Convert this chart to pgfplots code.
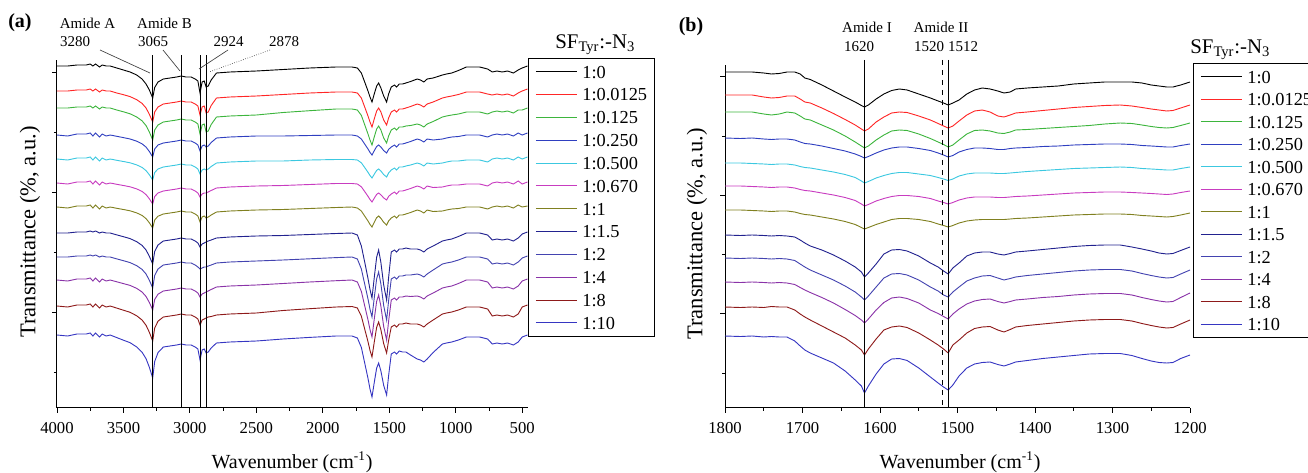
\documentclass[border=0pt]{standalone}
\usepackage{fontspec}
\setmainfont{Liberation Serif}
\usepackage{pgfplots}
\usepackage{pgfplotstable}
\pgfplotsset{compat=1.18}

\definecolor{k1}{HTML}{000000}
\definecolor{k2}{HTML}{FF2626}
\definecolor{k3}{HTML}{3DB53D}
\definecolor{k4}{HTML}{2F3FC0}
\definecolor{k5}{HTML}{3CC8E0}
\definecolor{k6}{HTML}{C83CC0}
\definecolor{k7}{HTML}{808020}
\definecolor{k8}{HTML}{22228F}
\definecolor{k9}{HTML}{4343B0}
\definecolor{k10}{HTML}{8A33A8}
\definecolor{k11}{HTML}{8E1A1A}
\definecolor{k12}{HTML}{3636C2}

\pgfplotstableread{
w c1 c2 c3 c4 c5 c6 c7 c8 c9 c10 c11 c12
-4000 -66 -91 -108 -135 -159 -183 -207 -233 -257 -280 -306 -335
-3920 -66 -91 -108 -136 -160 -184 -208 -233 -257 -281 -307 -336
-3850 -65 -90 -107 -134 -158 -182 -206 -232 -256 -279 -305 -334
-3780 -65 -90 -107 -134 -158 -182 -206 -232 -256 -279 -305 -334
-3750 -64 -89 -106 -133 -157 -181 -205 -231 -255 -278 -304 -333
-3730 -66 -91 -108 -136 -160 -184 -208 -232 -256 -281 -307 -336
-3710 -64 -89 -106 -133 -157 -181 -205 -231 -255 -278 -304 -333
-3680 -67 -92 -109 -137 -161 -185 -209 -233 -257 -282 -308 -337
-3660 -65 -90 -107 -134 -158 -182 -206 -232 -256 -279 -305 -334
-3630 -66 -91 -108 -136 -160 -184 -208 -233 -257 -281 -307 -336
-3600 -66 -91 -108 -135 -159 -183 -207 -233 -257 -280 -306 -335
-3550 -68 -93 -110 -136.3 -160.3 -184.3 -208.3 -234.9 -258.9 -281.8 -308.1 -337.6
-3500 -70 -94.7 -111.8 -137.6 -161.5 -185.5 -209.5 -236.7 -260.7 -283.6 -310.2 -340.2
-3450 -72 -96.6 -113.8 -139 -162.8 -186.8 -210.8 -238.6 -262.6 -285.4 -312.3 -342.7
-3400 -75 -99.7 -117 -141.2 -164.9 -188.9 -212.9 -241.7 -265.7 -288.4 -315.8 -347
-3360 -79 -103.4 -120.8 -143.8 -167.4 -191.4 -215.4 -245.4 -269.4 -292 -320 -352.2
-3330 -84 -108 -125.6 -147.1 -170.6 -194.6 -218.6 -250 -274 -296.5 -325.3 -358.7
-3305 -90 -114.3 -132 -151.5 -174.8 -198.8 -222.8 -256.3 -280.3 -302.5 -332.3 -367.3
-3280 -98 -122 -140 -157 -180 -204 -228 -264 -288 -310 -341 -378
-3265 -87.5 -112 -130 -149 -172.5 -196.5 -220 -251.5 -275.5 -299.5 -328 -361.5
-3240 -82 -107 -125 -145 -169 -193 -216.2 -245 -269 -294.2 -321.2 -352.6
-3200 -79 -104 -122 -143 -167 -191 -214 -241 -265 -291 -317 -347
-3150 -78 -103 -121 -142 -166 -190 -213 -240 -264 -290 -316 -346
-3100 -77 -102 -120 -141 -165 -189 -212 -239 -263 -289 -315 -345
-3065 -76 -101 -119 -140 -164 -188 -211 -238 -262 -288 -314 -344
-3030 -77 -102 -120 -141 -165 -189 -212 -239 -263 -289 -315 -345
-2990 -77 -102 -120 -141 -165 -189 -212 -239 -263 -289 -315 -345
-2960 -79 -104 -122 -143 -167 -191 -214 -241 -265 -291 -317 -347
-2940 -81 -106 -124 -145 -169 -193 -216 -243 -267 -293 -319 -349
-2924 -93 -115 -134 -151 -174 -197 -222 -247 -269 -297 -325 -360
-2908 -82 -107 -125 -146 -170 -194 -217 -244 -268 -294 -320 -350
-2892 -81 -106 -124 -145 -169 -193 -216 -243 -267 -293 -319 -349
-2878 -87 -113 -132 -147 -170 -193 -218 -242 -267 -292 -318 -353
-2862 -86 -112 -131 -146 -169 -192 -217 -241 -266 -291 -317 -352
-2840 -80 -105.5 -124.5 -142.5 -166.5 -190.5 -215 -240 -265 -289.5 -316.5 -348
-2800 -73 -98 -117 -138 -163 -188 -212 -238 -263 -287 -315 -343
-2700 -72 -97 -116 -137 -162 -187 -211 -237 -262 -286 -314 -342
-2500 -71 -96 -115 -136 -161 -186 -210 -236 -261 -285 -313 -341
-2300 -69.5 -94.5 -112.5 -136 -161 -185.5 -209.5 -235.5 -260 -283.5 -310.5 -339
-2100 -68 -93 -110.7 -135.5 -160 -184.5 -208.5 -234.5 -258.8 -282 -308.7 -337.4
-1900 -67 -92 -109 -135 -159.5 -183.5 -207.5 -233.5 -257.6 -280.7 -307 -336
-1780 -67 -92 -109 -135 -159.5 -183.5 -207 -233 -257 -280 -306.5 -336
-1740 -68 -93 -110 -136 -160 -184 -208 -235 -259 -282 -308 -338
-1710 -73 -98 -115.4 -139 -162.8 -186.8 -211 -246 -269 -291.4 -316.2 -347.4
-1685 -82 -107 -124.7 -144 -167.5 -191.5 -216 -262 -284 -305.7 -329 -362.9
-1660 -91 -116 -134 -149 -172.3 -196.3 -221 -278.5 -299 -319.9 -341.7 -378.4
-1645 -97 -122 -140 -152.4 -175.5 -199.5 -224.4 -289.5 -309.2 -329.6 -350.4 -389
-1630 -102 -127 -145 -155 -178 -202 -227 -298 -317 -337 -357 -397
-1612 -93.5 -118.5 -136.5 -150.5 -174 -198 -222 -276.4 -296.8 -318.1 -341.3 -381.7
-1595 -86 -111 -129 -146.5 -170.4 -194.4 -217.7 -257.2 -278.8 -301.3 -327.3 -368.1
-1580 -83 -108 -126 -145 -169 -193 -216 -250 -272 -295 -322 -363
-1563 -88 -112 -130 -147 -171 -194.8 -218.3 -262.5 -284 -306.3 -329.8 -371
-1542 -96 -120 -138 -150.6 -174.6 -197.9 -222.3 -285 -305.6 -326.5 -343.7 -385.4
-1520 -102 -125 -143 -153 -177 -200 -225 -300 -320 -340 -353 -395
-1505 -94 -118 -136 -149.4 -173 -196.4 -221 -277.5 -300.7 -321.1 -340.4 -375.7
-1485 -87 -112 -130 -147 -170 -194 -218 -252 -279 -300 -327 -354
-1460 -85 -110 -128 -145 -168 -192 -216 -250 -277 -298 -325 -352
-1445 -87 -112 -130 -147 -170 -194 -218 -252 -279 -300 -327 -354
-1425 -84 -109 -127 -144 -167 -191 -215 -249 -276 -297 -324 -351
-1400 -84 -109 -127 -144 -167 -191 -215 -249 -276 -297 -324 -352
-1375 -83 -108 -126 -143 -166 -190 -214 -248 -275 -296 -323 -352
-1340 -81.5 -106.5 -125.5 -141.5 -165 -188.5 -212.5 -249 -275 -296.5 -324 -355
-1290 -79 -104 -124 -139 -163 -186 -210 -249 -274 -296 -324 -359
-1265 -80 -105 -125 -140 -164 -187 -211 -250 -275 -297 -325 -360
-1240 -82 -107 -127 -142 -166 -189 -213 -252 -277 -299 -327 -362
-1215 -79 -104 -124 -139 -163 -186 -210 -249 -274 -296 -324 -359
-1170 -78 -102 -121.5 -140 -164 -187.5 -211.5 -246 -270 -293 -320 -352.5
-1100 -75 -98 -117 -139 -163 -187 -211 -241 -264 -288 -314 -344
-1070 -74 -97 -116 -138 -162 -186 -210 -240 -263 -287 -313 -343
-1030 -73 -96 -115 -137 -161 -185 -209 -239 -262 -286 -312 -342
-980 -70.5 -94.5 -114 -136.5 -161 -185 -208.5 -236.5 -260 -283.5 -310 -340
-920 -67 -92 -112 -135 -160 -184 -207 -233 -257 -280 -307 -337
-820 -67 -92 -112 -135 -160 -184 -207 -233 -257 -280 -307 -337
-760 -69 -94 -114 -137 -162 -186 -209 -235 -259 -282 -309 -339
-725 -72 -95 -112 -135 -159 -183 -207 -240 -264 -288 -316 -344
-690 -71 -94 -111 -134 -158 -182 -206 -239 -263 -287 -315 -343
-650 -72 -95 -112 -135 -159 -183 -207 -240 -264 -288 -316 -344
-610 -71 -94 -111 -134 -158 -182 -206 -239 -263 -287 -315 -343
-566 -73 -96 -113 -136 -160 -184 -208 -241 -265 -289 -317 -345
-530 -70 -93 -110 -133 -157 -181 -205 -238 -262 -286 -314 -342
-500 -68 -91 -110 -135 -159 -184 -207 -234 -258 -281 -307 -337
-460 -66 -89 -108 -133 -157 -182 -206 -232 -256 -279 -305 -335
}\tabA

\pgfplotstableread{
w c1 c2 c3 c4 c5 c6 c7 c8 c9 c10 c11 c12
-1800 -72 -95 -112 -138 -163 -186 -210 -235 -258 -282 -307 -336
-1780 -72 -95 -112 -138.5 -163 -186 -210 -235.5 -258.5 -282.5 -307.5 -336.5
-1765 -72 -95 -112 -138 -163.5 -186.5 -210.5 -235 -258 -282 -307 -336
-1750 -73 -97 -114 -139 -164 -187 -211 -235.5 -258.5 -282.5 -307.5 -337
-1740 -74 -98 -115 -139.5 -164.5 -187.5 -211.5 -236 -259 -283 -306.5 -336.5
-1730 -73.5 -97.5 -114 -139 -164 -187 -211 -235.5 -258.5 -282.5 -307 -337
-1720 -72 -96 -112 -139 -164 -187 -211 -236 -259 -283 -307 -337
-1710 -72 -96 -113 -140 -165 -188 -212 -237 -260.5 -284.5 -310 -341
-1703 -74 -99 -116 -142 -166.5 -189.5 -213.5 -240 -264 -287.5 -314 -346
-1697 -78 -102 -119 -143.5 -167.5 -190.5 -214.5 -243 -267 -290 -317 -350
-1690 -79.5 -103 -120 -144 -168 -191 -215 -246 -270 -292.5 -320 -353
-1675 -85 -108 -125 -146 -170 -193 -217 -250 -275 -297.5 -326 -358
-1660 -91 -113.5 -130 -148.5 -172 -195 -219 -255 -280 -303 -332 -363
-1645 -97 -119.5 -136 -151 -174.5 -197.5 -221.5 -261 -286 -309.5 -338 -371
-1632 -102 -125 -142 -154 -177.5 -200.5 -224.5 -267 -292 -315.5 -345 -380
-1624 -105.5 -129 -146 -156.5 -181 -204 -227.5 -272 -297 -320 -350 -386
-1620 -107 -131 -148 -158 -183 -206 -229 -277 -300 -323 -355 -393
-1615 -105 -129 -146 -156.5 -181.5 -204.5 -227.5 -273 -296 -319 -349 -386
-1605 -99 -122 -140 -153 -178 -201 -224.5 -264 -287 -310 -339 -374
-1595 -94 -117 -135 -150 -175.5 -198.5 -222 -254 -278 -302.5 -330 -364
-1585 -90.5 -113 -131 -148 -173.5 -196.5 -219.5 -250 -274 -298 -327 -359
-1575 -89 -112 -130 -147 -172.5 -195.5 -218.5 -249.5 -273.5 -297 -326 -358.5
-1565 -90 -112.5 -130.5 -147 -172.5 -195.5 -218.5 -251 -275 -298.5 -327.5 -360.5
-1550 -94 -116 -134 -148.5 -174 -196.5 -219.5 -256 -280 -303 -333 -368
-1535 -98 -120 -138.5 -150.5 -175.5 -198.5 -221.5 -263 -287 -310 -340 -377
-1525 -101 -123.5 -142 -153 -177.5 -201 -224 -267 -291 -313.5 -345 -383
-1518 -103 -126 -144.5 -155 -179 -202.5 -225.5 -271 -295 -316.5 -349 -387
-1512 -105 -128 -147 -157 -180.5 -204 -227 -274 -297 -319 -353 -390
-1506 -103 -126 -145 -155.5 -179 -202.5 -225.5 -268 -292 -314 -345 -385
-1498 -100 -121 -140 -152 -176 -200 -223 -263 -287 -309 -340 -376
-1488 -94 -115 -134 -149.5 -174 -198 -221 -256 -281 -304 -333 -368
-1478 -90 -111 -130.5 -148 -173 -197 -220 -253 -278 -301 -328.5 -364
-1468 -88 -110 -130 -148 -173 -197 -219.5 -252 -276 -299.5 -327 -362.5
-1458 -89 -112 -131 -148.5 -173 -197 -219.5 -252 -275.5 -299 -326.5 -362
-1448 -91 -116 -133 -149.5 -173.5 -197.5 -219.5 -254 -278 -301.5 -330 -364.5
-1440 -93 -117 -133.5 -149.5 -173.5 -197.5 -219.5 -255 -280 -303 -332 -366
-1432 -92 -115 -132 -148.5 -173 -197 -219 -253.5 -278.5 -301.5 -329.5 -364
-1425 -89 -113 -130 -148 -172.5 -196.5 -218.5 -252 -277 -300 -327 -362
-1410 -88 -112 -129.5 -147.5 -171.5 -196 -218 -251 -275.5 -299 -325.5 -360.5
-1390 -87 -110.5 -128.5 -146.5 -170.5 -195 -217 -249.5 -274 -297.5 -324 -358.5
-1370 -86 -109 -127.5 -146 -169.5 -194 -216 -248 -272.5 -296.5 -322.5 -357
-1350 -84 -107.5 -126.5 -145 -168.5 -193 -215 -246.5 -271 -295 -321 -355.5
-1330 -83 -106.5 -125.5 -144.5 -168 -192.5 -214.5 -245.5 -270 -294 -320 -354
-1310 -82 -105.5 -124 -144 -167.5 -192 -214 -245 -269.5 -293.5 -319.5 -353.5
-1290 -82 -105 -123 -144 -167 -192 -214 -245 -269.5 -293.5 -319.5 -353.5
-1275 -82 -106 -123.5 -144.5 -167.5 -192.5 -214.5 -247 -271 -295 -321 -355.5
-1262 -83 -107.5 -125 -145.5 -168.5 -193 -215.5 -249 -273.5 -297.5 -323.5 -358.5
-1250 -85 -109 -126.5 -146 -169 -193.5 -216 -251 -275.5 -299.5 -325.5 -361
-1240 -86 -110 -127.5 -146.5 -169.5 -194 -216.5 -253 -277 -301 -327 -362.5
-1230 -87 -111 -128 -147 -170 -194.5 -217 -254 -278 -302 -328 -363
-1222 -87 -110.5 -127.5 -147 -170 -194 -216.5 -253.5 -277.5 -301.5 -327.5 -362.5
-1212 -85 -108 -125.5 -145.5 -168.5 -192.5 -215 -250.5 -274 -297.5 -324 -358.5
-1200 -82 -105 -123 -144 -167 -191 -213 -247 -270 -293 -320 -355
}\tabB

\pgfplotsset{
  ftir/.style={
    scale only axis, clip=false,
    axis x line*=bottom, axis y line*=left,
    x axis line style={-}, y axis line style={-},
    axis line style={line width=0.6pt},
    tick align=outside,
    major tick length=3pt, minor tick length=1.8pt,
    every tick/.style={black, line width=0.5pt},
    yticklabels={},
    tick label style={font=\fontsize{10}{12}\selectfont},
    xticklabel style={yshift=-2.6pt},
    legend cell align=left,
    legend image code/.code={\draw[##1,line width=0.6pt] (0pt,0pt) -- (24.6pt,0pt);},
    legend style={draw=black, line width=0.5pt, fill=white,
      font=\fontsize{11}{13}\selectfont, inner xsep=4.2pt, inner ysep=4.2pt,
      column sep=3pt, nodes={inner sep=0pt, text height=7.6pt, text depth=0pt},
      anchor=north west},
    every axis plot/.append style={line width=0.55pt},
  }
}

\begin{document}
\begin{tikzpicture}
\useasboundingbox (0,0) rectangle (784.8pt,-283.8pt);

% ---------- panel (a)
\begin{axis}[ftir,
  at={(34.2pt,-244.5pt)}, anchor=south west,
  width=282.3pt, height=208.5pt,
  xmin=-4000, xmax=-460, ymin=-407.5, ymax=-60,
  xtick={-4000,-3500,...,-500},
  xticklabels={4000,3500,3000,2500,2000,1500,1000,500},
  minor xtick={-3750,-3250,...,-750},
  ytick={-312,-192,-72}, minor ytick={-372,-252,-132},
  legend style={at={(1.0011,1.0058)}, row sep=6.1pt},
]
\addplot[k1] table[x=w,y=c1]{\tabA};
\addplot[k2] table[x=w,y=c2]{\tabA};
\addplot[k3] table[x=w,y=c3]{\tabA};
\addplot[k4] table[x=w,y=c4]{\tabA};
\addplot[k5] table[x=w,y=c5]{\tabA};
\addplot[k6] table[x=w,y=c6]{\tabA};
\addplot[k7] table[x=w,y=c7]{\tabA};
\addplot[k8] table[x=w,y=c8]{\tabA};
\addplot[k9] table[x=w,y=c9]{\tabA};
\addplot[k10] table[x=w,y=c10]{\tabA};
\addplot[k11] table[x=w,y=c11]{\tabA};
\addplot[k12] table[x=w,y=c12]{\tabA};
\legend{1:0,1:0.0125,1:0.125,1:0.250,1:0.500,1:0.670,1:1,1:1.5,1:2,1:4,1:8,1:10}
\draw[line width=0.6pt] (axis cs:-3280,-55) -- (axis cs:-3280,-407.5);
\draw[line width=0.6pt] (axis cs:-3065,-55) -- (axis cs:-3065,-407.5);
\draw[line width=0.6pt] (axis cs:-2924,-55) -- (axis cs:-2924,-407.5);
\draw[line width=0.6pt] (axis cs:-2875,-55) -- (axis cs:-2875,-407.5);
\end{axis}

% ---------- panel (b)
\begin{axis}[ftir,
  at={(435pt,-244.5pt)}, anchor=south west,
  width=279pt, height=205.5pt,
  xmin=-1800, xmax=-1200, ymin=-407.5, ymax=-65,
  xtick={-1800,-1700,...,-1200},
  xticklabels={1800,1700,1600,1500,1400,1300,1200},
  minor xtick={-1750,-1650,...,-1250},
  ytick={-313,-195,-76}, minor ytick={-373,-254,-136},
  legend style={at={(1.00645,1.0058)}, row sep=5.9pt},
]
\addplot[k1] table[x=w,y=c1]{\tabB};
\addplot[k2] table[x=w,y=c2]{\tabB};
\addplot[k3] table[x=w,y=c3]{\tabB};
\addplot[k4] table[x=w,y=c4]{\tabB};
\addplot[k5] table[x=w,y=c5]{\tabB};
\addplot[k6] table[x=w,y=c6]{\tabB};
\addplot[k7] table[x=w,y=c7]{\tabB};
\addplot[k8] table[x=w,y=c8]{\tabB};
\addplot[k9] table[x=w,y=c9]{\tabB};
\addplot[k10] table[x=w,y=c10]{\tabB};
\addplot[k11] table[x=w,y=c11]{\tabB};
\addplot[k12] table[x=w,y=c12]{\tabB};
\legend{1:0,1:0.0125,1:0.125,1:0.250,1:0.500,1:0.670,1:1,1:1.5,1:2,1:4,1:8,1:10}
\draw[line width=0.6pt] (axis cs:-1620,-60) -- (axis cs:-1620,-407.5);
\draw[line width=0.6pt, dashed] (axis cs:-1520,-60) -- (axis cs:-1520,-407.5);
\draw[line width=0.6pt] (axis cs:-1512,-60) -- (axis cs:-1512,-407.5);
\end{axis}

% ---------- annotations (pixel coordinates)
\begin{scope}[x=0.6pt,y=-0.6pt]
\node[font=\bfseries\fontsize{12}{14}\selectfont] at (20,23) {(a)};
\node[font=\bfseries\fontsize{12}{14}\selectfont] at (691,27) {(b)};
\begin{scope}[every node/.style={font=\fontsize{9}{11}\selectfont, inner sep=0pt}]
\node at (87.5,23.3) {Amide A};
\node at (75,41.7) {3280};
\node at (164.5,23.3) {Amide B};
\node at (153,41.7) {3065};
\node at (228.5,41.7) {2924};
\node at (284,41.7) {2878};
\node at (867,27) {Amide I};
\node at (859,47) {1620};
\node at (941,27) {Amide II};
\node at (929,47) {1520};
\node at (963,47) {1512};
\end{scope}
\draw[black!75, line width=0.4pt] (100,50) -- (150,73);
\draw[black!75, line width=0.4pt] (163,50) -- (180,71);
\draw[black!75, line width=0.4pt] (228,50) -- (199,69);
\draw[black!75, line width=0.4pt, densely dotted] (270,50) -- (209,72);
\node[anchor=base west, inner sep=0pt, font=\fontsize{12.5}{14}\selectfont] at (555,48) {SF\textsubscript{Tyr}:-N\textsubscript{3}};
\node[anchor=base west, inner sep=0pt, font=\fontsize{12.5}{14}\selectfont] at (1190,53) {SF\textsubscript{Tyr}:-N\textsubscript{3}};
\node[rotate=90, font=\fontsize{13.5}{15}\selectfont] at (30,232) {Transmittance (\%, a.u.)};
\node[rotate=90, font=\fontsize{13.5}{15}\selectfont] at (697,234) {Transmittance (\%, a.u.)};
\node[anchor=base, font=\fontsize{12}{14}\selectfont] at (292,468) {Wavenumber (cm\textsuperscript{-1})};
\node[anchor=base, font=\fontsize{12}{14}\selectfont] at (960,468) {Wavenumber (cm\textsuperscript{-1})};
\end{scope}
\end{tikzpicture}
\end{document}
